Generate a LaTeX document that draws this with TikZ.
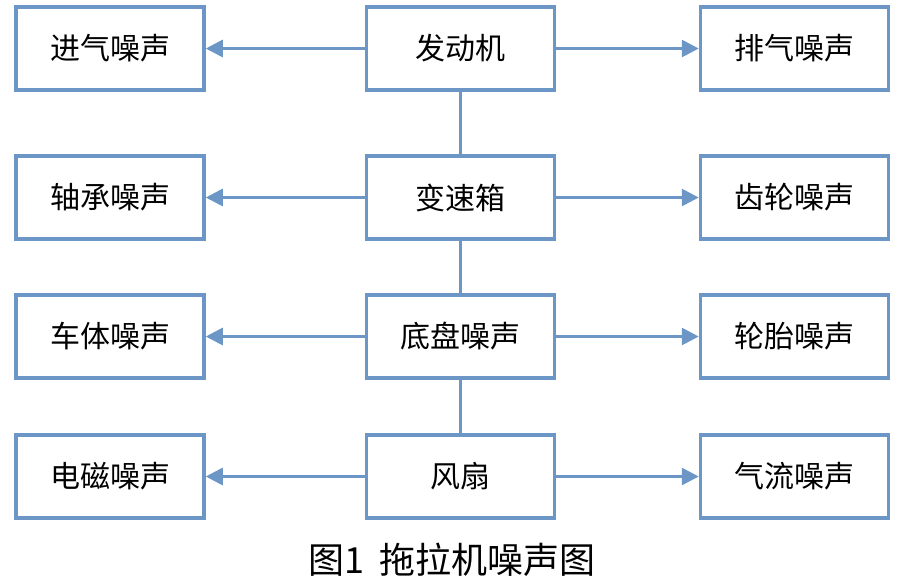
\documentclass[tikz,border=0pt]{standalone}
\usepackage{fontspec}
\setmainfont{Noto Sans CJK SC}
\usetikzlibrary{arrows.meta}
\definecolor{boxblue}{RGB}{108,150,198}
\begin{document}
\begin{tikzpicture}[x=1pt, y=-1pt,
  noisebox/.style={draw=boxblue, line width=3.5pt, fill=white, minimum width=188pt, minimum height=83pt, inner sep=0pt, font=\fontsize{30}{33}\selectfont},
  noisearrow/.style={draw=boxblue, line width=2.8pt, -{Triangle[length=17pt, width=17pt]}},
  noiseline/.style={draw=boxblue, line width=2.8pt}]

  \newcommand\XL{110};
  \newcommand\XC{460.5};
  \newcommand\XR{794.5};

  \useasboundingbox (0,0) rectangle (899,582);

  % centre column
  \node[noisebox] (engine) at (\XC, 48.5) {发动机};
  \node[noisebox] (gearbox) at (\XC, 197.5) {变速箱};
  \node[noisebox] (chassis) at (\XC, 336.5) {底盘噪声};
  \node[noisebox] (fan) at (\XC, 476.5) {风扇};

  % left column
  \node[noisebox] (intake) at (\XL, 48.5) {进气噪声};
  \node[noisebox] (bearing) at (\XL, 197.5) {轴承噪声};
  \node[noisebox] (body) at (\XL, 336.5) {车体噪声};
  \node[noisebox] (emag) at (\XL, 476.5) {电磁噪声};

  % right column
  \node[noisebox] (exhaust) at (\XR, 48.5) {排气噪声};
  \node[noisebox] (gear) at (\XR, 197.5) {齿轮噪声};
  \node[noisebox] (tyre) at (\XR, 336.5) {轮胎噪声};
  \node[noisebox] (airflow) at (\XR, 476.5) {气流噪声};

  \draw[noiseline] (engine) -- (gearbox); %% engine-gearbox
  \draw[noiseline] (gearbox) -- (chassis); %% gearbox-chassis
  \draw[noiseline] (chassis) -- (fan); %% chassis-fan

  \draw[noisearrow] (engine) -- (intake);
  \draw[noisearrow] (engine) -- (exhaust);
  \draw[noisearrow] (gearbox) -- (bearing);
  \draw[noisearrow] (gearbox) -- (gear);
  \draw[noisearrow] (chassis) -- (body);
  \draw[noisearrow] (chassis) -- (tyre);
  \draw[noisearrow] (fan) -- (emag);
  \draw[noisearrow] (fan) -- (airflow);

  \node[font=\fontsize{36}{40}\selectfont] (caption) at (452, 560) {图1\hspace{0.4em}拖拉机噪声图};

\end{tikzpicture}
\end{document}
